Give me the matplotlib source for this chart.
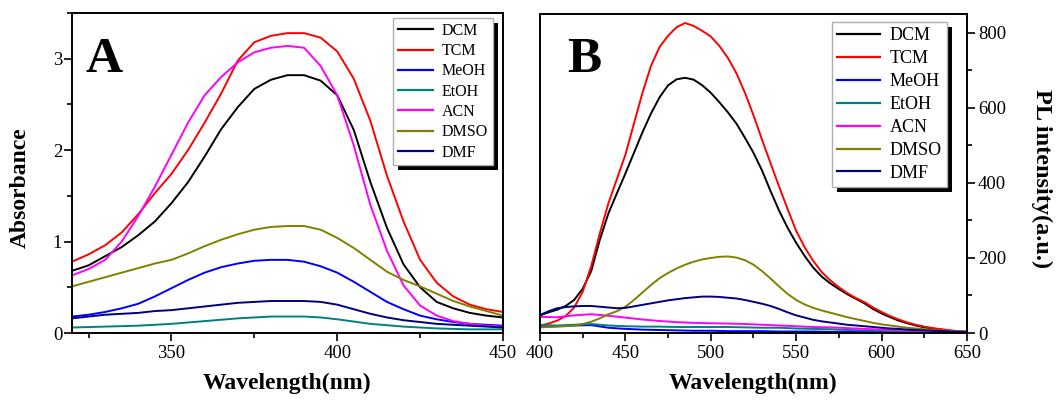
import numpy as np
import matplotlib
matplotlib.use('Agg')
import matplotlib.pyplot as plt
from matplotlib.ticker import MultipleLocator
from matplotlib.patches import Rectangle
from matplotlib.transforms import IdentityTransform

plt.rcParams['font.family'] = ['Liberation Serif', 'DejaVu Serif']

# ---------------- data ----------------
solvents = ['DCM', 'TCM', 'MeOH', 'EtOH', 'ACN', 'DMSO', 'DMF']
colors = ['#000000', '#ff0000', '#0000ff', '#008080', '#ff00ff', '#808000', '#000080']

# Panel A: absorbance, 320-450 nm every 5 nm
wl_a = np.arange(320, 451, 5)
abs_dcm = [0.68, 0.74, 0.84, 0.94, 1.07, 1.22, 1.42, 1.65, 1.93, 2.23, 2.47, 2.67, 2.77, 2.82,
           2.82, 2.76, 2.60, 2.22, 1.65, 1.15, 0.75, 0.50, 0.34, 0.27, 0.22, 0.19, 0.17]
abs_tcm = [0.78, 0.86, 0.96, 1.10, 1.30, 1.53, 1.74, 2.00, 2.30, 2.62, 2.98, 3.18, 3.25, 3.28,
           3.28, 3.23, 3.08, 2.78, 2.32, 1.72, 1.22, 0.80, 0.55, 0.40, 0.31, 0.26, 0.23]
abs_meoh = [0.18, 0.20, 0.23, 0.27, 0.32, 0.40, 0.49, 0.58, 0.66, 0.72, 0.76, 0.79, 0.80, 0.80,
            0.78, 0.73, 0.66, 0.56, 0.45, 0.34, 0.26, 0.19, 0.15, 0.12, 0.10, 0.09, 0.08]
abs_etoh = [0.06, 0.065, 0.07, 0.075, 0.08, 0.09, 0.10, 0.115, 0.13, 0.145, 0.16, 0.17, 0.18, 0.18,
            0.18, 0.17, 0.15, 0.125, 0.10, 0.085, 0.07, 0.06, 0.05, 0.045, 0.04, 0.04, 0.04]
abs_acn = [0.63, 0.70, 0.80, 1.00, 1.28, 1.60, 1.95, 2.30, 2.60, 2.80, 2.96, 3.07, 3.12, 3.14,
           3.12, 2.92, 2.60, 2.05, 1.40, 0.90, 0.52, 0.30, 0.19, 0.13, 0.10, 0.08, 0.07]
abs_dmso = [0.51, 0.56, 0.61, 0.66, 0.71, 0.76, 0.80, 0.87, 0.95, 1.02, 1.08, 1.13, 1.16, 1.17,
            1.17, 1.13, 1.04, 0.93, 0.80, 0.67, 0.58, 0.51, 0.43, 0.35, 0.29, 0.24, 0.19]
abs_dmf = [0.16, 0.18, 0.20, 0.21, 0.22, 0.24, 0.25, 0.27, 0.29, 0.31, 0.33, 0.34, 0.35, 0.35,
           0.35, 0.34, 0.31, 0.26, 0.21, 0.17, 0.14, 0.12, 0.10, 0.09, 0.08, 0.07, 0.06]

# Panel B: PL intensity, 400-650 nm every 5 nm (strong series)
wl_b5 = np.arange(400, 651, 5)
pl_dcm = [47, 55, 62, 72, 88, 118, 165, 248, 318, 372, 425, 480, 535, 585, 628, 660, 676, 680,
          675, 660, 640, 615, 588, 558, 520, 480, 433, 378, 326, 280, 240, 205, 174, 150, 132,
          117, 103, 91, 79, 64, 52, 42, 33, 26, 20, 15, 12, 9, 6, 4, 3]
pl_tcm = [20, 25, 33, 45, 68, 110, 178, 265, 345, 410, 475, 558, 640, 712, 762, 792, 815, 826,
          818, 805, 790, 765, 733, 692, 640, 580, 515, 452, 390, 330, 272, 228, 192, 162, 140,
          122, 106, 93, 82, 68, 56, 45, 36, 28, 22, 17, 13, 10, 7, 5, 3]
pl_dmso = [15, 16, 17, 18, 20, 24, 30, 39, 50, 58, 70, 88, 108, 128, 146, 160, 172, 182, 190,
           196, 200, 203, 204, 201, 194, 182, 165, 145, 124, 104, 88, 76, 67, 60, 54, 48, 42,
           37, 32, 27, 23, 20, 17, 14, 12, 10, 8, 6, 5, 4, 3]
pl_dmf = [48, 58, 66, 69, 71, 72, 72, 70, 68, 66, 67, 71, 75, 79, 83, 87, 90, 93, 95, 97, 97,
          96, 94, 92, 88, 83, 78, 72, 64, 55, 47, 41, 35, 31, 28, 25, 22, 20, 18, 16, 14, 12,
          11, 9, 8, 7, 6, 5, 4, 3, 3]

# Panel B: weak series, 400-650 nm every 10 nm
wl_b10 = np.arange(400, 651, 10)
pl_acn = [43, 42, 47, 50, 46, 41, 36, 32, 29, 27, 26, 25, 24, 22, 20, 18, 16, 15, 13, 11, 9,
          8, 6, 5, 4, 3]
pl_etoh = [21, 20, 22, 24, 20, 18, 17, 17, 16, 16, 16, 16, 15, 14, 14, 12, 11, 10, 8, 7, 6,
           5, 4, 3, 3, 2]
pl_meoh = [17, 18, 20, 21, 14, 11, 9, 8, 7, 6, 6, 5, 5, 5, 4, 4, 4, 3, 3, 3, 3, 2, 2, 2, 2, 2]

abs_series = [abs_dcm, abs_tcm, abs_meoh, abs_etoh, abs_acn, abs_dmso, abs_dmf]
pl_series = [(wl_b5, pl_dcm), (wl_b5, pl_tcm), (wl_b10, pl_meoh), (wl_b10, pl_etoh),
             (wl_b10, pl_acn), (wl_b5, pl_dmso), (wl_b5, pl_dmf)]

# ---------------- figure ----------------
W, H = 1056, 401
fig = plt.figure(figsize=(W / 100, H / 100), dpi=100)

def px_axes(l, t, r, b):
    return fig.add_axes([l / W, 1 - b / H, (r - l) / W, (b - t) / H])

axA = px_axes(72, 13, 503, 333)
axB = px_axes(540, 14, 967, 333)

LW = 1.4
for name, c, y in zip(solvents, colors, abs_series):
    axA.plot(wl_a, y, color=c, lw=LW, label=name)
for name, c, (x, y) in zip(solvents, colors, pl_series):
    axB.plot(x, y, color=c, lw=LW, label=name)

axA.set_xlim(320, 450)
axA.set_ylim(0, 3.5)
axA.xaxis.set_major_locator(MultipleLocator(50))
axA.xaxis.set_minor_locator(MultipleLocator(25))
axA.yaxis.set_major_locator(MultipleLocator(1))
axA.yaxis.set_minor_locator(MultipleLocator(0.5))

axB.set_xlim(400, 650)
axB.set_ylim(0, 850)
axB.xaxis.set_major_locator(MultipleLocator(50))
axB.xaxis.set_minor_locator(MultipleLocator(25))
axB.yaxis.set_major_locator(MultipleLocator(200))
axB.yaxis.set_minor_locator(MultipleLocator(100))
axB.yaxis.tick_right()

for ax in (axA, axB):
    for s in ax.spines.values():
        s.set_linewidth(1.4)
    ax.tick_params(which='both', direction='out', width=1.2, labelsize=13.5)
    ax.tick_params(which='major', length=6)
    ax.tick_params(which='minor', length=3.5)
    ax.tick_params(axis='x', which='both', top=False, pad=3)
axA.tick_params(axis='y', which='both', right=False, pad=1)
axB.tick_params(axis='y', which='both', left=False, right=True, pad=2)

# panel letters (display pixel coords, origin bottom-left)
axA.text(85, H - 72, 'A', transform=IdentityTransform(), fontsize=37, fontweight='bold',
         va='baseline', ha='left')
axB.text(567, H - 71.5, 'B', transform=IdentityTransform(), fontsize=37, fontweight='bold',
         va='baseline', ha='left')

# axis labels
fig.text(287 / W, 1 - 383 / H, 'Wavelength(nm)', fontsize=17, fontweight='bold',
         ha='center', va='center')
fig.text(753 / W, 1 - 383 / H, 'Wavelength(nm)', fontsize=17, fontweight='bold',
         ha='center', va='center')
fig.text(20 / W, 1 - 188 / H, 'Absorbance', fontsize=17, fontweight='bold',
         ha='center', va='center', rotation=90)
fig.text(1042 / W, 1 - 179 / H, 'PL intensity(a.u.)', fontsize=17.5, fontweight='bold',
         ha='center', va='center', rotation=270)

# legends
legA = axA.legend(loc='upper left', bbox_to_anchor=(393 / W, 1 - 18 / H),
                  bbox_transform=fig.transFigure, fontsize=11.5, frameon=True,
                  fancybox=False, edgecolor='#b0b0b0', framealpha=1, borderaxespad=0,
                  handlelength=2.2, handletextpad=0.55, labelspacing=0.27, borderpad=0.3)
legB = axB.legend(loc='upper left', bbox_to_anchor=(832 / W, 1 - 22 / H),
                  bbox_transform=fig.transFigure, fontsize=13, frameon=True,
                  fancybox=False, edgecolor='#b0b0b0', framealpha=1, borderaxespad=0,
                  handlelength=2.4, handletextpad=0.5, labelspacing=0.33, borderpad=0.28)
for leg in (legA, legB):
    leg.get_frame().set_linewidth(1.0)
    for ln in leg.get_lines():
        ln.set_linewidth(1.6)

fig.canvas.draw()
for ax, leg in ((axA, legA), (axB, legB)):
    bb = leg.get_window_extent()
    sh = Rectangle((bb.x0 + 5, bb.y0 - 5), bb.width, bb.height, transform=IdentityTransform(),
                   facecolor='black', edgecolor='none', zorder=4.9, clip_on=False)
    ax.add_patch(sh)

fig.savefig('out.png', dpi=100)
